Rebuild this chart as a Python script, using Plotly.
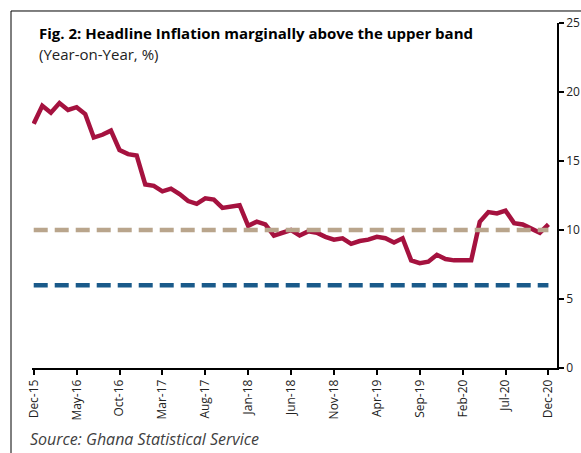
import plotly.graph_objects as go

months = ["Dec-15",
          "Jan-16", "Feb-16", "Mar-16", "Apr-16", "May-16", "Jun-16", "Jul-16", "Aug-16", "Sep-16", "Oct-16", "Nov-16", "Dec-16",
          "Jan-17", "Feb-17", "Mar-17", "Apr-17", "May-17", "Jun-17", "Jul-17", "Aug-17", "Sep-17", "Oct-17", "Nov-17", "Dec-17",
          "Jan-18", "Feb-18", "Mar-18", "Apr-18", "May-18", "Jun-18", "Jul-18", "Aug-18", "Sep-18", "Oct-18", "Nov-18", "Dec-18",
          "Jan-19", "Feb-19", "Mar-19", "Apr-19", "May-19", "Jun-19", "Jul-19", "Aug-19", "Sep-19", "Oct-19", "Nov-19", "Dec-19",
          "Jan-20", "Feb-20", "Mar-20", "Apr-20", "May-20", "Jun-20", "Jul-20", "Aug-20", "Sep-20", "Oct-20", "Nov-20", "Dec-20"]

inflation = [17.7,
             19.0, 18.5, 19.2, 18.7, 18.9, 18.4, 16.7, 16.9, 17.2, 15.8, 15.5, 15.4,
             13.3, 13.2, 12.8, 13.0, 12.6, 12.1, 11.9, 12.3, 12.2, 11.6, 11.7, 11.8,
             10.3, 10.6, 10.4, 9.6, 9.8, 10.0, 9.6, 9.9, 9.8, 9.5, 9.3, 9.4,
             9.0, 9.2, 9.3, 9.5, 9.4, 9.1, 9.4, 7.8, 7.6, 7.7, 8.2, 7.9,
             7.8, 7.8, 7.8, 10.6, 11.3, 11.2, 11.4, 10.5, 10.4, 10.1, 9.8, 10.4]

upper_band = [10.0] * len(months)
lower_band = [6.0] * len(months)

tick_labels = ["Dec-15", "May-16", "Oct-16", "Mar-17", "Aug-17", "Jan-18", "Jun-18",
               "Nov-18", "Apr-19", "Sep-19", "Feb-20", "Jul-20", "Dec-20"]

xidx = list(range(len(months)))
tickvals = [months.index(t) for t in tick_labels]

fig = go.Figure()
fig.add_trace(go.Scatter(x=xidx, y=inflation, mode="lines",
                         line=dict(color="#A5123F", width=4.5), name="Headline inflation"))
fig.add_trace(go.Scatter(x=xidx, y=upper_band, mode="lines",
                         line=dict(color="#B9A58C", width=4.5, dash="14px,7px"), name="Upper band"))
fig.add_trace(go.Scatter(x=xidx, y=lower_band, mode="lines",
                         line=dict(color="#1A5A8A", width=4.5, dash="14px,7px"), name="Lower band"))

fig.update_layout(
    width=581, height=453,
    margin=dict(l=32, r=24, t=23, b=85),
    paper_bgcolor="white", plot_bgcolor="white",
    showlegend=False,
    font=dict(family="Open Sans", color="#222222", size=12),
    xaxis=dict(range=[-0.2, 61.0], tickvals=tickvals, ticktext=tick_labels,
               tickangle=-90, showgrid=False, zeroline=False, automargin=False,
               showline=True, linecolor="black", linewidth=1.5,
               ticks="outside", ticklen=5, tickcolor="black", tickwidth=1.5,
               tickfont=dict(size=12, color="#222222")),
    yaxis=dict(range=[0, 25], dtick=5, side="right", showgrid=False, zeroline=False, automargin=False,
               showline=True, linecolor="black", linewidth=1.5,
               ticks="outside", ticklen=5, tickcolor="black", tickwidth=1.5,
               tickfont=dict(size=12, color="#222222")),
    shapes=[
        dict(type="line", xref="paper", yref="paper", x0=-0.04, x1=-0.04, y0=1.0348, y1=-0.3,
             line=dict(color="black", width=1)),
        dict(type="line", xref="paper", yref="paper", x0=-0.04, x1=1.1, y0=1.0348, y1=1.0348,
             line=dict(color="black", width=1)),
    ],
    annotations=[
        dict(text="<b>Fig. 2: Headline Inflation marginally above the upper band</b>",
             xref="paper", yref="paper", x=0.0095, y=0.972, xanchor="left", yanchor="middle",
             showarrow=False, font=dict(family="Open Sans", size=15, color="black")),
        dict(text="(Year-on-Year, %)",
             xref="paper", yref="paper", x=0.0095, y=0.911, xanchor="left", yanchor="middle",
             showarrow=False, font=dict(family="Open Sans", size=15, color="#222222")),
        dict(text="<i>Source: Ghana Statistical Service</i>",
             xref="paper", yref="paper", x=-0.008, y=-0.206, xanchor="left", yanchor="middle",
             showarrow=False, font=dict(family="Open Sans", size=16, color="#404040")),
    ],
)

fig.write_html("out.html")
